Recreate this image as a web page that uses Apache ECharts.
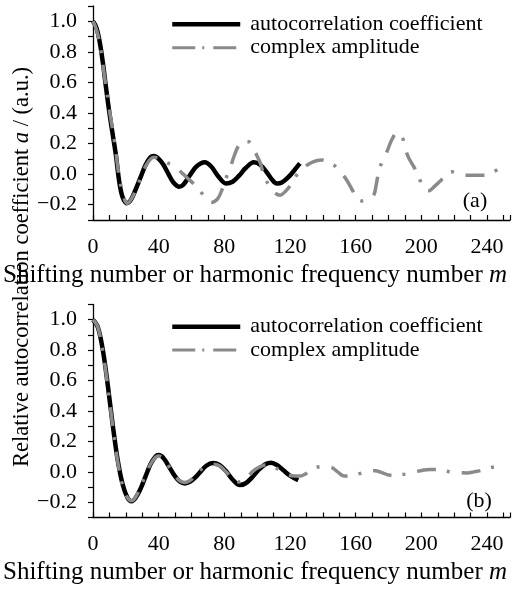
<!DOCTYPE html>
<html><head><meta charset="utf-8">
<script src="https://cdn.jsdelivr.net/npm/echarts@6/dist/echarts.min.js"></script>
<style>html,body{margin:0;padding:0;background:#fff}#c{width:513px;height:589px}</style>
</head><body><div id="c"></div>
<script>
// ---------- data (m, value) ----------
const xLabelValues = [0, 40, 80, 120, 160, 200, 240];
const yLabelValues = [-0.2, 0, 0.2, 0.4, 0.6, 0.8, 1.0];
const seriesNames = ['autocorrelation coefficient', 'complex amplitude'];
const panelTags = ['(a)', '(b)'];

const autoA = [[0,1.0],[2,0.96],[4,0.87],[6,0.73],[8,0.56],[10,0.4],[12,0.26],[14,0.12],[16,-0.05],[18,-0.15],[20.5,-0.19],[23,-0.17],[26,-0.1],[29,-0.02],[32,0.06],[35,0.11],[37,0.118],[40,0.1],[43,0.06],[46,0.0],[49,-0.055],[52.5,-0.083],[55,-0.07],[59,-0.007],[63,0.05],[68,0.077],[72,0.05],[76,-0.01],[81,-0.061],[85,-0.05],[89,-0.01],[93,0.04],[98,0.077],[102,0.06],[106,0.01],[109,-0.035],[112,-0.061],[115,-0.055],[119,-0.02],[123,0.03],[126,0.07]];

const complexA = [[0,1.0],[2,0.95],[4,0.86],[7,0.64],[10,0.42],[13,0.22],[16,-0.02],[19,-0.16],[21,-0.19],[24,-0.15],[27,-0.08],[30,0.0],[33,0.07],[37,0.11],[41,0.1],[45,0.075],[50,0.048],[55,0.0],[59,-0.04],[63,-0.08],[66,-0.12],[69,-0.165],[72,-0.185],[76,-0.16],[79,-0.09],[81.5,-0.013],[84,0.055],[86,0.12],[89,0.19],[93,0.215],[96,0.205],[99,0.14],[102,0.07],[104,-0.007],[107,-0.07],[110,-0.115],[114,-0.138],[117,-0.115],[120,-0.077],[124,-0.007],[128,0.04],[132,0.07],[136,0.088],[140,0.092],[144,0.075],[148,0.048],[151,0.01],[154,-0.03],[157.5,-0.094],[161,-0.16],[164,-0.175],[168,-0.16],[171,-0.138],[172.5,-0.07],[174,0.015],[176,0.08],[179,0.146],[182,0.225],[185,0.267],[188,0.25],[190,0.18],[192,0.113],[196,0.037],[199,-0.035],[202,-0.1],[204.5,-0.109],[208,-0.08],[211,-0.05],[215,-0.01],[218.5,0.015],[222,0.0],[226,-0.007],[232,-0.007],[238.5,-0.007],[243,0.01],[247,0.033]];

const autoB = [[0,1.0],[3,0.95],[6,0.8],[9,0.57],[12,0.31],[15,0.08],[18,-0.08],[21,-0.17],[23.5,-0.193],[26,-0.17],[29,-0.11],[32,-0.03],[35,0.05],[38,0.1],[40,0.11],[43,0.09],[46,0.04],[50,-0.03],[53,-0.065],[56,-0.076],[59,-0.066],[62,-0.04],[65,-0.005],[69,0.04],[73,0.058],[77,0.045],[81,0.005],[85,-0.05],[89.5,-0.087],[93,-0.075],[97,-0.035],[101,0.015],[105,0.05],[108.5,0.06],[112,0.045],[116,0.01],[120,-0.025],[125,-0.055]];

const complexB = [[0,1.0],[3,0.95],[6,0.79],[9,0.56],[12,0.3],[15,0.07],[18,-0.09],[21,-0.17],[23.5,-0.19],[26,-0.165],[29,-0.1],[32,-0.02],[35,0.05],[38,0.095],[40,0.105],[43,0.085],[46,0.04],[50,-0.025],[53,-0.06],[56,-0.07],[60,-0.05],[64,0.0],[69,0.035],[73,0.05],[77,0.04],[81,0.0],[85,-0.04],[89,-0.066],[93,-0.05],[97,0.0],[101,0.03],[105,0.045],[109,0.04],[113,0.015],[117,-0.01],[121,-0.025],[126,-0.028],[130,-0.01],[134,0.022],[140,0.035],[145,0.03],[149,0.0],[153,-0.028],[158,-0.022],[163,-0.01],[168,0.003],[172,0.007],[176,-0.005],[181,-0.022],[186,-0.02],[190,-0.015],[196,0.0],[201,0.011],[205,0.016],[209,0.016],[213,0.008],[218,0.0],[223,-0.005],[228,-0.007],[232,0.0],[237,0.011],[241,0.025],[245,0.033],[250,0.022]];

// ---------- styling / layout ----------
const FONT = '"Liberation Serif", "Times New Roman", serif';
const COMPLEX_COLOR = '#8a8a8a';
const COMPLEX_DASH = [19, 11, 3, 12];
const LEGEND_DASH = [23, 7, 2, 9];

function xAxisFor(gi) {
  return {
    gridIndex: gi, type: 'value', min: 0, max: 254, interval: 10,
    axisLine: { onZero: false, lineStyle: { color: '#000', width: 1.3 } },
    axisTick: { inside: true, length: 5, lineStyle: { color: '#000', width: 1.2 } },
    splitLine: { show: false },
    axisLabel: {
      margin: 16, color: '#000', fontFamily: FONT, fontSize: 22,
      formatter: function (v) {
        const r = Math.round(v);
        return (Math.abs(v - r) < 1e-6 && xLabelValues.indexOf(r) >= 0) ? String(r) : '';
      }
    }
  };
}
function yAxisFor(gi) {
  return {
    gridIndex: gi, type: 'value', min: -0.3, max: 1.1, interval: 0.1,
    axisLine: { show: true, onZero: false, lineStyle: { color: '#000', width: 1.3 } },
    axisTick: { show: true, inside: false, length: 5, lineStyle: { color: '#000', width: 1.2 } },
    splitLine: { show: false },
    axisLabel: {
      margin: 16, color: '#000', fontFamily: FONT, fontSize: 22,
      formatter: function (v) {
        const k = Math.round(v * 10);
        const ok = yLabelValues.some(function (t) { return Math.round(t * 10) === k; });
        if (!ok) return '';
        return (k < 0 ? '\u2212' : '') + Math.abs(k / 10).toFixed(1);
      }
    }
  };
}
function seriesFor(gi, autoData, complexData) {
  return [
    { type: 'line', name: seriesNames[0], xAxisIndex: gi, yAxisIndex: gi, data: autoData,
      symbol: 'none', smooth: 0.35, z: 2, emphasis: { disabled: true },
      itemStyle: { color: '#000' }, lineStyle: { color: '#000', width: 4.5 } },
    { type: 'line', name: seriesNames[1], xAxisIndex: gi, yAxisIndex: gi, data: complexData,
      symbol: 'none', smooth: 0.35, z: 3, emphasis: { disabled: true },
      itemStyle: { color: COMPLEX_COLOR },
      lineStyle: { color: COMPLEX_COLOR, width: 3.5, type: COMPLEX_DASH, cap: 'butt' } }
  ];
}
function legendFor(top) {
  return {
    orient: 'vertical', left: 170, top: top, padding: 0,
    itemWidth: 68, itemHeight: 10, itemGap: 1.4, selectedMode: false,
    textStyle: { fontFamily: FONT, fontSize: 22, lineHeight: 22, color: '#000', padding: [0, 0, 0, 5] },
    itemStyle: { opacity: 0 },
    data: [
      { name: seriesNames[0], lineStyle: { width: 4.5 } },
      { name: seriesNames[1], lineStyle: { width: 3, type: LEGEND_DASH } }
    ]
  };
}
function richText(parts, size) {
  let text = '';
  parts.forEach(function (p) { text += '{' + (p[1] ? 'i' : 'n') + '|' + p[0] + '}'; });
  return {
    text: text,
    rich: {
      n: { fontFamily: FONT, fontSize: size, fill: '#000' },
      i: { fontFamily: FONT, fontSize: size, fontStyle: 'italic', fill: '#000' }
    },
    align: 'center', verticalAlign: 'middle'
  };
}
const xTitleParts = [['Shifting number or harmonic frequency number ', false], ['m', true]];
const yTitleParts = [['Relative autocorrelation coefficient ', false], ['a', true], [' / (a.u.)', false]];

const chart = echarts.init(document.getElementById('c'), null, { renderer: 'canvas' });
chart.setOption({
  animation: false,
  backgroundColor: '#fff',
  grid: [
    { left: 93, top: 6, width: 417, height: 214 },
    { left: 93, top: 304.5, width: 417, height: 213 }
  ],
  xAxis: [xAxisFor(0), xAxisFor(1)],
  yAxis: [yAxisFor(0), yAxisFor(1)],
  legend: [legendFor(13.3), legendFor(315.7)],
  series: seriesFor(0, autoA, complexA).concat(seriesFor(1, autoB, complexB)),
  graphic: [
    { type: 'text', x: 255, y: 275, style: richText(xTitleParts, 25) },
    { type: 'text', x: 255, y: 572, style: richText(xTitleParts, 25) },
    { type: 'text', x: 22, y: 267, rotation: Math.PI / 2, style: richText(yTitleParts, 22.5) },
    { type: 'text', x: 475, y: 201, style: { text: panelTags[0], fontFamily: FONT, fontSize: 22, fill: '#000', align: 'center', verticalAlign: 'middle' } },
    { type: 'text', x: 479, y: 501, style: { text: panelTags[1], fontFamily: FONT, fontSize: 22, fill: '#000', align: 'center', verticalAlign: 'middle' } }
  ]
});
</script>
</body></html>
